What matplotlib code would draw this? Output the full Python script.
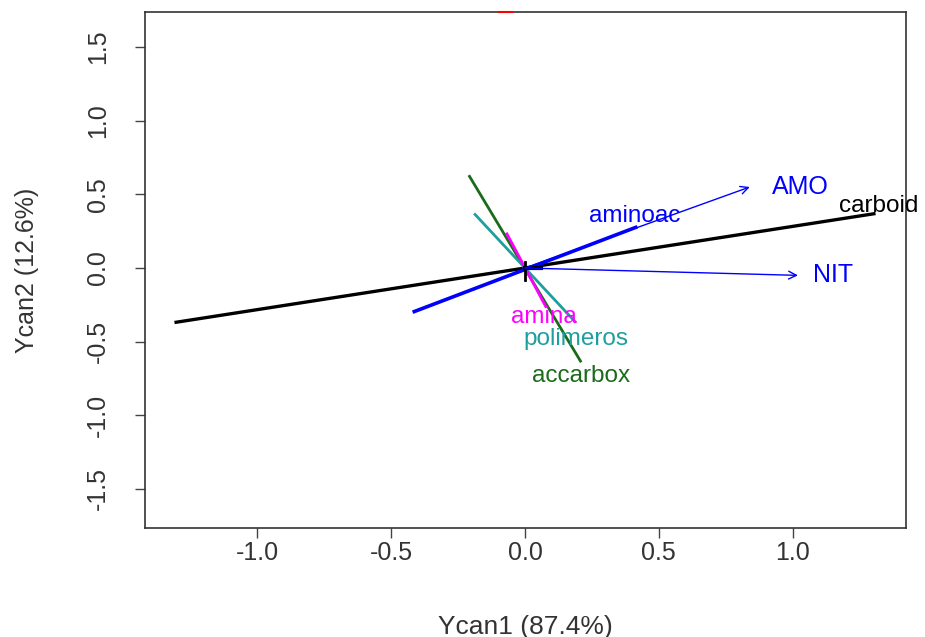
import matplotlib
matplotlib.use("Agg")
import matplotlib.pyplot as plt

# segment variables (drawn as lines through origin)
seg_names = ["carboid", "aminoac", "accarbox", "polimeros", "amina"]
seg_x0 = [-1.31, -0.42, -0.21, -0.19, -0.07]
seg_y0 = [-0.37, -0.30, 0.63, 0.37, 0.24]
seg_x1 = [1.31, 0.42, 0.21, 0.19, 0.08]
seg_y1 = [0.37, 0.28, -0.64, -0.37, -0.27]
seg_colors = ["black", "blue", "#1a6b1a", "#1f9e9e", "#ff00ff"]
seg_widths = [2.4, 2.6, 2.0, 2.0, 2.0]
seg_lab_x = [1.32, 0.41, 0.21, 0.19, 0.07]
seg_lab_y = [0.42, 0.35, -0.73, -0.48, -0.33]

# arrow variables
arr_names = ["AMO", "NIT"]
arr_x = [0.84, 1.02]
arr_y = [0.55, -0.05]
arr_lab_x = [1.03, 1.15]
arr_lab_y = [0.55, -0.05]

xticks = [-1.0, -0.5, 0.0, 0.5, 1.0]
yticks = [-1.5, -1.0, -0.5, 0.0, 0.5, 1.0, 1.5]

plt.rcParams["font.family"] = ["Liberation Sans", "DejaVu Sans"]
fs = 18
ylo, yhi = -1.765, 1.738

fig = plt.figure(figsize=(9.25, 6.37), dpi=100)
ax = fig.add_axes([0.1568, 0.1711, 0.8227, 0.8101])

for i in range(len(seg_names)):
    ax.plot([seg_x0[i], seg_x1[i]], [seg_y0[i], seg_y1[i]],
            color=seg_colors[i], lw=seg_widths[i], solid_capstyle="butt")
    ax.text(seg_lab_x[i], seg_lab_y[i], seg_names[i], color=seg_colors[i],
            fontsize=fs - 0.5, ha="center", va="center", clip_on=False)

for i in range(len(arr_names)):
    ax.annotate("", xy=(arr_x[i], arr_y[i]), xytext=(0, 0),
                arrowprops=dict(arrowstyle="->", color="blue", lw=1,
                                mutation_scale=14, shrinkA=0, shrinkB=0))
    ax.text(arr_lab_x[i], arr_lab_y[i], arr_names[i], color="blue",
            fontsize=fs, ha="center", va="center")

# small mark at origin and red mark on top edge
ax.plot([0.0, 0.06], [0.0, 0.0], color="black", lw=3)
ax.plot([0.0, 0.0], [0.04, -0.08], color="black", lw=2)
ax.plot([-0.10, -0.045], [yhi, yhi], color="red", lw=1.5, clip_on=False,
        zorder=5, solid_capstyle="butt")

ax.set_xlim(-1.42, 1.424)
ax.set_ylim(ylo, yhi)
ax.set_xticks(xticks)
ax.set_yticks(yticks)
ax.set_xticklabels(["%.1f" % t for t in xticks], fontsize=fs)
ax.set_yticklabels(["%.1f" % t for t in yticks], fontsize=fs,
                   rotation=90, va="center")
ax.tick_params(direction="out", length=7, width=1, color="#444444",
               labelcolor="#333333")
ax.tick_params(axis="x", pad=2)
ax.tick_params(axis="y", pad=18)
for s in ax.spines.values():
    s.set_color("#333333")
    s.set_linewidth(1.2)

ax.set_xlabel("Ycan1 (87.4%)", fontsize=fs + 1, color="#333333", labelpad=36)
ax.set_ylabel("Ycan2 (12.6%)", fontsize=fs, color="#333333", labelpad=34)

fig.savefig("out.png", dpi=100)
